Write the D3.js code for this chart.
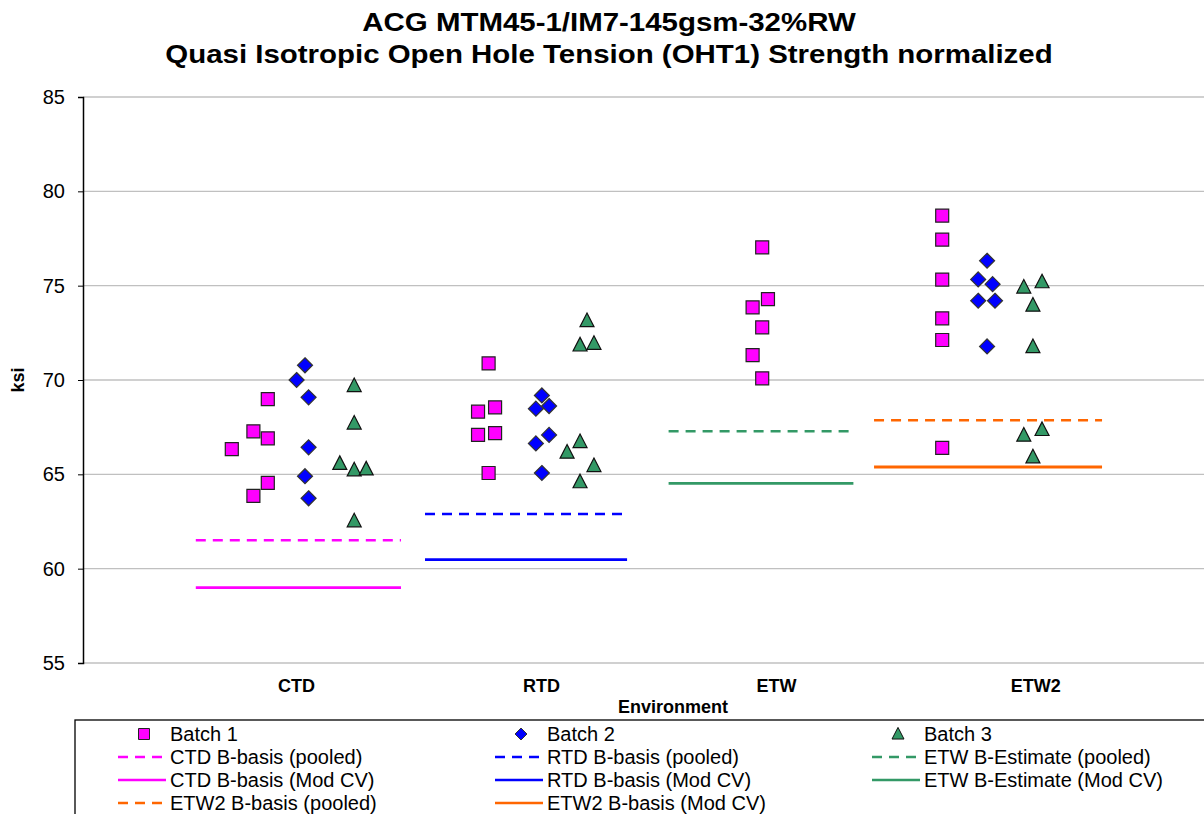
<!DOCTYPE html>
<html lang="en">
  <head>
    <meta charset="UTF-8" />
    <title>OHT1 Strength normalized</title>
    <style>
      body { margin: 0; background: #fff; }
      text { font-family: "Liberation Sans", Arial, sans-serif; fill: #000; }
    </style>
  </head>
  <body>
    <svg id="svg" width="1204" height="814"></svg>

    <script src="https://cdn.jsdelivr.net/npm/d3@7"></script>
    <script>
      const WIDTH = 1204;
      const HEIGHT = 814;

      // environments and where their labels sit on the x axis (x units)
      const envs = ["CTD", "RTD", "ETW", "ETW2"];
      const envLabelX = [0.89, 1.91, 2.89, 3.97];

      // batch data, x is the jittered position in x units, y is ksi
      const batch1 = [
        { x: 0.77, y: 68.99 }, { x: 0.71, y: 67.28 }, { x: 0.77, y: 66.91 },
        { x: 0.62, y: 66.34 }, { x: 0.77, y: 64.55 }, { x: 0.71, y: 63.86 },
        { x: 1.69, y: 70.88 }, { x: 1.646, y: 68.32 }, { x: 1.717, y: 68.55 },
        { x: 1.646, y: 67.09 }, { x: 1.717, y: 67.18 }, { x: 1.69, y: 65.07 },
        { x: 2.83, y: 77.03 }, { x: 2.854, y: 74.29 }, { x: 2.79, y: 73.85 },
        { x: 2.83, y: 72.79 }, { x: 2.79, y: 71.32 }, { x: 2.83, y: 70.09 },
        { x: 3.58, y: 78.71 }, { x: 3.58, y: 77.44 }, { x: 3.58, y: 75.32 },
        { x: 3.58, y: 73.27 }, { x: 3.58, y: 72.12 }, { x: 3.58, y: 66.4 }
      ];
      const batch2 = [
        { x: 0.925, y: 70.78 }, { x: 0.89, y: 70.0 }, { x: 0.94, y: 69.08 },
        { x: 0.94, y: 66.43 }, { x: 0.925, y: 64.9 }, { x: 0.94, y: 63.73 },
        { x: 1.912, y: 69.18 }, { x: 1.887, y: 68.48 }, { x: 1.942, y: 68.62 },
        { x: 1.942, y: 67.09 }, { x: 1.887, y: 66.64 }, { x: 1.912, y: 65.07 },
        { x: 3.767, y: 76.32 }, { x: 3.73, y: 75.33 }, { x: 3.79, y: 75.08 },
        { x: 3.73, y: 74.2 }, { x: 3.8, y: 74.2 }, { x: 3.767, y: 71.78 }
      ];
      const batch3 = [
        { x: 1.13, y: 69.7 }, { x: 1.13, y: 67.71 }, { x: 1.07, y: 65.57 },
        { x: 1.13, y: 65.23 }, { x: 1.18, y: 65.28 }, { x: 1.13, y: 62.53 },
        { x: 2.1, y: 73.14 }, { x: 2.071, y: 71.85 }, { x: 2.129, y: 71.94 },
        { x: 2.071, y: 66.73 }, { x: 2.017, y: 66.17 }, { x: 2.129, y: 65.46 },
        { x: 2.071, y: 64.6 },
        { x: 3.92, y: 74.92 }, { x: 3.996, y: 75.2 }, { x: 3.958, y: 73.96 },
        { x: 3.958, y: 71.76 }, { x: 3.92, y: 67.07 }, { x: 3.996, y: 67.37 },
        { x: 3.958, y: 65.92 }
      ];

      // basis values per environment and the x span of each line
      const basisPooled = [61.5, 62.9, 67.28, 67.86];
      const basisModCV = [59.0, 60.48, 64.52, 65.39];
      const basisXStart = [0.47, 1.425, 2.44, 3.296];
      const basisXEnd = [1.325, 2.267, 3.21, 4.246];
      const basisColors = ["#FF00FF", "#0000FF", "#339966", "#FF6600"];

      const yTicks = [55, 60, 65, 70, 75, 80, 85];

      const pooledNames = [
        "CTD B-basis (pooled)", "RTD B-basis (pooled)",
        "ETW B-Estimate (pooled)", "ETW2 B-basis (pooled)"
      ];
      const modCVNames = [
        "CTD B-basis (Mod CV)", "RTD B-basis (Mod CV)",
        "ETW B-Estimate (Mod CV)", "ETW2 B-basis (Mod CV)"
      ];

      const PLOT = { left: 83, top: 97, bottom: 663 };

      const xScale = d3.scaleLinear().domain([0, 5]).range([PLOT.left, PLOT.left + 1200]);
      const yScale = d3.scaleLinear().domain([55, 85]).range([PLOT.bottom, PLOT.top]);

      const svg = d3.select("#svg");

      // gridlines
      svg.append("g")
        .selectAll("line")
        .data(yTicks)
        .enter()
        .append("line")
        .attr("x1", PLOT.left)
        .attr("x2", WIDTH)
        .attr("y1", (d) => yScale(d))
        .attr("y2", (d) => yScale(d))
        .attr("stroke", "#c0c0c0")
        .attr("stroke-width", 1.3);

      // y axis
      const leftAxis = d3.axisLeft(yScale).tickValues(yTicks).tickSize(5).tickPadding(13);
      const yAxisG = svg.append("g")
        .attr("transform", `translate(${PLOT.left}, 0)`)
        .call(leftAxis);
      yAxisG.select(".domain").attr("stroke", "#000").attr("stroke-width", 1.5);
      yAxisG.selectAll(".tick line").attr("stroke", "#000");
      yAxisG.selectAll(".tick text")
        .attr("font-size", 20)
        .attr("font-family", "Liberation Sans, Arial, sans-serif")
        .attr("fill", "#000");

      // basis lines
      const lines = svg.append("g");
      envs.forEach((env, i) => {
        lines.append("line")
          .attr("x1", xScale(basisXStart[i]))
          .attr("x2", xScale(basisXEnd[i]))
          .attr("y1", yScale(basisPooled[i]))
          .attr("y2", yScale(basisPooled[i]))
          .attr("stroke", basisColors[i])
          .attr("stroke-width", 2.5)
          .attr("stroke-dasharray", "10,7");
        lines.append("line")
          .attr("x1", xScale(basisXStart[i]))
          .attr("x2", xScale(basisXEnd[i]))
          .attr("y1", yScale(basisModCV[i]))
          .attr("y2", yScale(basisModCV[i]))
          .attr("stroke", basisColors[i])
          .attr("stroke-width", 2.8);
      });

      // marker shapes
      const squarePath = (s) => `M${-s / 2},${-s / 2}h${s}v${s}h${-s}Z`;
      const diamondPath = (s) => `M0,${-s / 2}L${s / 2},0L0,${s / 2}L${-s / 2},0Z`;
      const trianglePath = (s) => `M0,${-s * 0.55}L${s / 2},${s * 0.42}L${-s / 2},${s * 0.42}Z`;

      const batches = [
        { data: batch1, path: squarePath(13), fill: "#FF00FF", stroke: "#222", lpath: squarePath(11) },
        { data: batch2, path: diamondPath(15), fill: "#0000FF", stroke: "#333", lpath: diamondPath(12) },
        { data: batch3, path: trianglePath(14), fill: "#339966", stroke: "#111", lpath: trianglePath(12) }
      ];

      batches.forEach((b) => {
        svg.append("g")
          .selectAll("path")
          .data(b.data)
          .enter()
          .append("path")
          .attr("transform", (d) => `translate(${xScale(d.x)},${yScale(d.y)})`)
          .attr("d", b.path)
          .attr("fill", b.fill)
          .attr("stroke", b.stroke)
          .attr("stroke-width", 1.2);
      });

      // titles
      const t1 = svg.append("text")
        .attr("x", 609).attr("y", 31)
        .attr("text-anchor", "middle")
        .attr("font-size", 25).attr("font-weight", "bold")
        .text("ACG MTM45-1/IM7-145gsm-32%RW");
      const t2 = svg.append("text")
        .attr("x", 609).attr("y", 63)
        .attr("text-anchor", "middle")
        .attr("font-size", 25).attr("font-weight", "bold")
        .text("Quasi Isotropic Open Hole Tension (OHT1) Strength normalized");
      // the original font is a bit condensed
      const k = 888 / t2.node().getComputedTextLength();
      [t1, t2].forEach((t) => t.attr("transform", `translate(609,0) scale(${k},1) translate(-609,0)`));

      // axis titles and env labels
      svg.append("text")
        .attr("transform", "translate(24,380) rotate(-90)")
        .attr("text-anchor", "middle")
        .attr("font-size", 18).attr("font-weight", "bold")
        .text("ksi");

      svg.append("g")
        .selectAll("text")
        .data(envs)
        .enter()
        .append("text")
        .attr("x", (d, i) => xScale(envLabelX[i]))
        .attr("y", 692)
        .attr("text-anchor", "middle")
        .attr("font-size", 18).attr("font-weight", "bold")
        .text((d) => d);

      svg.append("text")
        .attr("x", 673).attr("y", 713)
        .attr("text-anchor", "middle")
        .attr("font-size", 18).attr("font-weight", "bold")
        .text("Environment");

      // legend
      const legend = svg.append("g");
      legend.append("rect")
        .attr("x", 75).attr("y", 720)
        .attr("width", 1200).attr("height", 120)
        .attr("fill", "#fff").attr("stroke", "#000").attr("stroke-width", 1.3);

      const colX = [118, 495, 872];
      const rowY = [734, 757, 780, 803];
      const items = [];
      ["Batch 1", "Batch 2", "Batch 3"].forEach((name, i) =>
        items.push({ name, type: "marker", b: batches[i] }));
      // Excel lays the series out row by row: pooled CTD/RTD/ETW, then Mod CV, then ETW2
      [0, 1, 2].forEach((i) => items.push({ name: pooledNames[i], type: "dash", color: basisColors[i] }));
      [0, 1, 2].forEach((i) => items.push({ name: modCVNames[i], type: "solid", color: basisColors[i] }));
      items.push({ name: pooledNames[3], type: "dash", color: basisColors[3] });
      items.push({ name: modCVNames[3], type: "solid", color: basisColors[3] });

      items.forEach((it, n) => {
        const cx = colX[n % 3];
        const cy = rowY[Math.floor(n / 3)];
        const g = legend.append("g");
        if (it.type === "marker") {
          g.append("path")
            .attr("transform", `translate(${cx + 26},${cy})`)
            .attr("d", it.b.lpath)
            .attr("fill", it.b.fill)
            .attr("stroke", it.b.stroke)
            .attr("stroke-width", 1);
        } else {
          g.append("line")
            .attr("x1", cx).attr("x2", cx + 48)
            .attr("y1", cy).attr("y2", cy)
            .attr("stroke", it.color)
            .attr("stroke-width", 2.5)
            .attr("stroke-dasharray", it.type === "dash" ? "10,7" : null);
        }
        g.append("text")
          .attr("x", cx + 52).attr("y", cy + 7)
          .attr("font-size", 20)
          .text(it.name);
      });
    </script>
  </body>
</html>
